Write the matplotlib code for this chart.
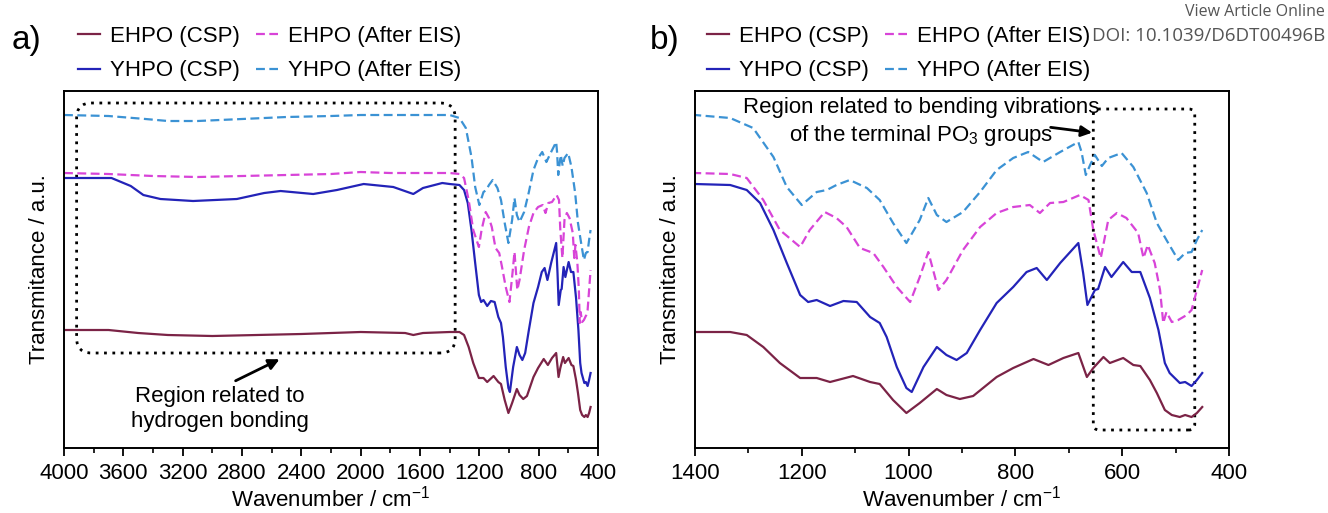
import matplotlib
matplotlib.use("Agg")
import matplotlib.pyplot as plt
from matplotlib.patches import FancyBboxPatch
from matplotlib.ticker import MultipleLocator

plt.rcParams['font.family'] = ['Liberation Sans', 'DejaVu Sans']
plt.rcParams['mathtext.fontset'] = 'custom'
plt.rcParams['mathtext.rm'] = 'Liberation Sans'
plt.rcParams['mathtext.it'] = 'Liberation Sans'

# FTIR spectra (wavenumber in cm-1, transmittance in a.u.)
wn_ehpo_csp = [4000, 3700, 3500, 3300, 3000, 2700, 2400, 2000, 1700, 1645, 1580, 1400, 1334, 1303,
               1272, 1241, 1203, 1172, 1147, 1104, 1072, 1054, 1029, 1004, 979, 947, 929, 904, 879,
               835, 804, 766, 738, 710, 682, 666, 654, 635, 623, 598, 579, 566, 548, 535, 520, 507,
               492, 482, 470, 460, 450]
t_ehpo_csp = [1.18, 1.18, 1.15, 1.13, 1.12, 1.13, 1.14, 1.16, 1.15, 1.13, 1.15, 1.16, 1.16, 1.13,
              1.01, 0.85, 0.70, 0.70, 0.66, 0.72, 0.66, 0.64, 0.48, 0.35, 0.45, 0.59, 0.53, 0.49, 0.52,
              0.71, 0.80, 0.89, 0.83, 0.90, 0.95, 0.71, 0.80, 0.91, 0.85, 0.90, 0.83, 0.82, 0.68, 0.55,
              0.38, 0.33, 0.31, 0.33, 0.31, 0.35, 0.41]

wn_yhpo_csp = [4000, 3680, 3550, 3465, 3350, 3130, 2835, 2650, 2540, 2320, 2160, 1980, 1780, 1645,
               1580, 1450, 1400, 1334, 1303, 1278, 1253, 1228, 1203, 1188, 1172, 1147, 1122, 1097,
               1072, 1054, 1041, 1022, 1004, 994, 972, 947, 929, 910, 891, 866, 835, 804, 779, 760,
               741, 716, 682, 673, 665, 651, 645, 632, 620, 598, 582, 566, 548, 532, 520, 511, 492,
               482, 470, 460, 450]
t_yhpo_csp = [2.70, 2.70, 2.62, 2.53, 2.49, 2.47, 2.49, 2.55, 2.57, 2.54, 2.58, 2.64, 2.61, 2.54,
              2.60, 2.65, 2.64, 2.63, 2.58, 2.45, 2.18, 1.85, 1.53, 1.46, 1.48, 1.42, 1.47, 1.46,
              1.31, 1.25, 1.11, 0.81, 0.60, 0.56, 0.81, 1.01, 0.93, 0.88, 0.95, 1.18, 1.45, 1.61,
              1.76, 1.80, 1.68, 1.85, 2.05, 1.75, 1.43, 1.58, 1.59, 1.81, 1.71, 1.86, 1.76, 1.76,
              1.50, 1.18, 0.85, 0.75, 0.65, 0.66, 0.62, 0.68, 0.75]

wn_ehpo_eis = [4000, 3700, 3400, 3100, 2800, 2500, 2200, 2000, 1800, 1600, 1400, 1334, 1303, 1272,
               1241, 1203, 1185, 1157, 1135, 1116, 1091, 1066, 1047, 1022, 997, 979, 963, 944, 929,
               898, 866, 835, 804, 773, 754, 735, 710, 679, 663, 654, 640, 626, 610, 592, 570, 560,
               552, 539, 529, 523, 517, 507, 495, 479, 470, 460, 450]
t_ehpo_eis = [2.75, 2.74, 2.72, 2.71, 2.72, 2.73, 2.74, 2.76, 2.75, 2.75, 2.75, 2.74, 2.70, 2.48,
              2.18, 2.01, 2.18, 2.36, 2.30, 2.21, 2.00, 1.95, 1.81, 1.61, 1.46, 1.71, 1.96, 1.58,
              1.68, 1.98, 2.21, 2.35, 2.41, 2.43, 2.35, 2.45, 2.46, 2.53, 2.48, 2.18, 1.90, 2.28,
              2.35, 2.30, 2.15, 1.90, 2.03, 1.85, 1.58, 1.25, 1.36, 1.26, 1.28, 1.33, 1.38, 1.58, 1.78]

wn_yhpo_eis = [4000, 3700, 3450, 3300, 3100, 2800, 2500, 2200, 2000, 1700, 1400, 1334, 1291, 1253,
               1228, 1200, 1172, 1153, 1135, 1110, 1078, 1054, 1029, 1004, 979, 963, 947, 929, 898,
               866, 835, 804, 776, 748, 716, 682, 676, 668, 660, 651, 638, 626, 601, 579, 554, 535,
               517, 495, 482, 470, 460, 450]
t_yhpo_eis = [3.33, 3.32, 3.29, 3.27, 3.27, 3.29, 3.31, 3.32, 3.33, 3.33, 3.33, 3.30, 3.20, 2.91,
              2.61, 2.43, 2.56, 2.58, 2.63, 2.68, 2.60, 2.48, 2.25, 2.05, 2.28, 2.50, 2.33, 2.26,
              2.36, 2.56, 2.78, 2.90, 2.96, 2.86, 2.96, 3.06, 2.96, 2.73, 2.83, 2.93, 2.82, 2.90,
              2.95, 2.81, 2.55, 2.25, 2.08, 1.88, 1.95, 1.96, 2.08, 2.18]

labels = ['EHPO (CSP)', 'YHPO (CSP)', 'EHPO (After EIS)', 'YHPO (After EIS)']
colors = ['#7b2346', '#2323b8', '#d844d8', '#3b92d4']
styles = ['-', '-', '--', '--']
series = [(wn_ehpo_csp, t_ehpo_csp), (wn_yhpo_csp, t_yhpo_csp),
          (wn_ehpo_eis, t_ehpo_eis), (wn_yhpo_eis, t_yhpo_eis)]

fig = plt.figure(figsize=(13.28, 5.13), dpi=100)
ax_a = fig.add_axes([0.0482, 0.1267, 0.4021, 0.6959])
ax_b = fig.add_axes([0.5233, 0.1267, 0.4021, 0.6959])

for ax, xlim, major, minor in [(ax_a, (4000, 400), 400, 200), (ax_b, (1400, 400), 200, 100)]:
    for (wn, t), lab, c, ls in zip(series, labels, colors, styles):
        line, = ax.plot(wn, t, color=c, lw=1.6, ls=ls, label=lab)
        if ls == '--':
            line.set_dashes((4, 2))
    ax.set_xlim(*xlim)
    ax.set_ylim(0, 3.57)
    ax.xaxis.set_major_locator(MultipleLocator(major))
    ax.xaxis.set_minor_locator(MultipleLocator(minor))
    ax.set_yticks([])
    ax.tick_params(axis='x', which='major', direction='out', length=6, width=1.3,
                   labelsize=16, pad=5)
    ax.tick_params(axis='x', which='minor', direction='out', length=3.5, width=1.2)
    for sp in ax.spines.values():
        sp.set_linewidth(1.4)
    ax.set_xlabel('Wavenumber / cm$^{-1}$', fontsize=16)
    ax.xaxis.set_label_coords(0.5, -0.105)
    ax.set_ylabel('Transmitance / a.u.', fontsize=16)
    ax.yaxis.set_label_coords(-0.027, 0.5)

# legends above each panel
for ax, x0 in [(ax_a, 0.0587), (ax_b, 0.5324)]:
    ax.legend(ncol=2, loc='upper left', bbox_to_anchor=(x0, 0.949),
              bbox_transform=fig.transFigure, frameon=False, fontsize=16,
              borderpad=0, borderaxespad=0, handlelength=1.0, handletextpad=0.45,
              columnspacing=0.7, labelspacing=0.6)

fig.text(0.009, 0.922, 'a)', fontsize=24, va='center', ha='left')
fig.text(0.4895, 0.922, 'b)', fontsize=24, va='center', ha='left')

# panel a: hydrogen bonding region
box_a = FancyBboxPatch((1363, 0.95), 3915 - 1363, 2.5,
                       boxstyle='round,pad=0,rounding_size=101',
                       mutation_aspect=0.001483, fill=False, ec='black',
                       lw=2, ls=(0, (1, 2)), transform=ax_a.transData)
ax_a.add_patch(box_a)
ax_a.text(2948, 0.39, 'Region related to\nhydrogen bonding', fontsize=16,
          ha='center', va='center', linespacing=1.25)
ax_a.annotate('', xy=(2530, 0.90), xytext=(2860, 0.66),
              arrowprops=dict(arrowstyle='-|>', lw=2, color='black', mutation_scale=16))

# panel b: terminal PO3 bending region
box_b = FancyBboxPatch((464, 0.18), 654 - 464, 3.21,
                       boxstyle='round,pad=0,rounding_size=11',
                       mutation_aspect=0.00545, fill=False, ec='black',
                       lw=2, ls=(0, (1, 2)), transform=ax_b.transData)
ax_b.add_patch(box_b)
ax_b.text(977, 3.255, 'Region related to bending vibrations\nof the terminal PO$_3$ groups',
          fontsize=16, ha='center', va='center', linespacing=1.25)
ax_b.annotate('', xy=(651, 3.15), xytext=(739, 3.21),
              arrowprops=dict(arrowstyle='-|>', lw=2, color='black', mutation_scale=16))

fig.text(0.998, 0.976, 'View Article Online', fontsize=11.5, color='#555555',
         ha='right', va='center', family=['Open Sans', 'DejaVu Sans'])
fig.text(0.998, 0.930, 'DOI: 10.1039/D6DT00496B', fontsize=13.5, color='#555555',
         ha='right', va='center', family=['Open Sans', 'DejaVu Sans'])

fig.savefig('out.png', dpi=100)
